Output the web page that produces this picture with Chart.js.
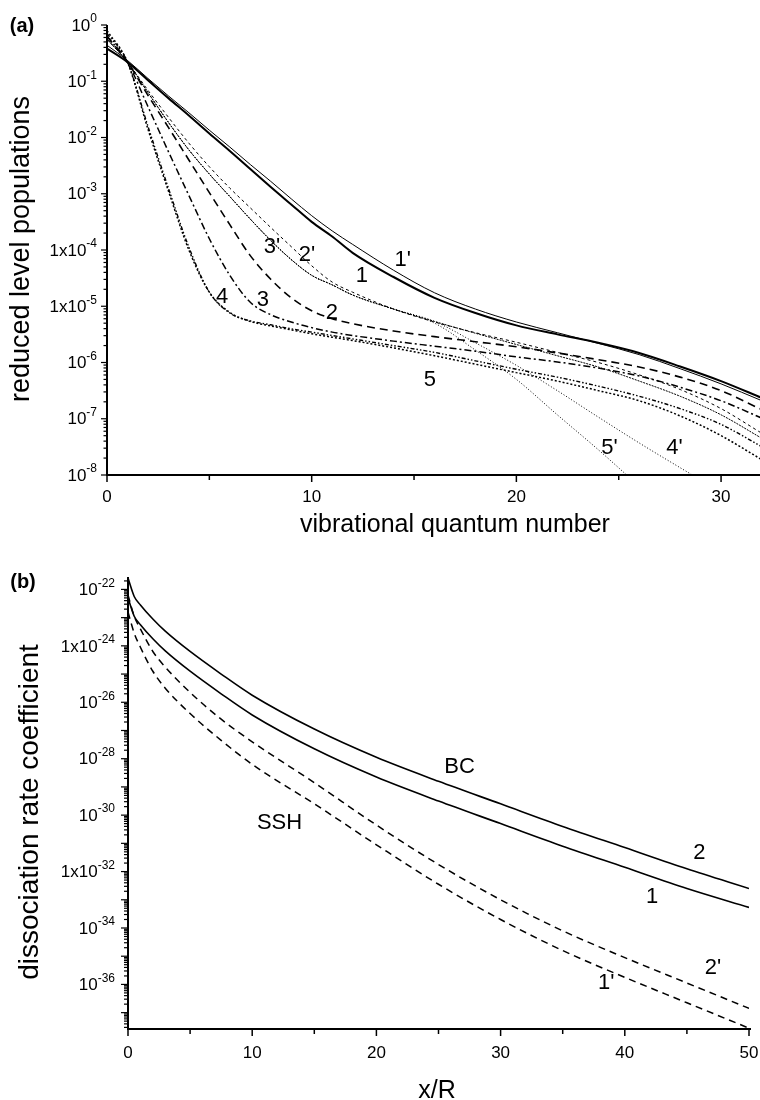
<!DOCTYPE html>
<html>
<head>
<meta charset="utf-8">
<script src="https://cdn.jsdelivr.net/npm/chart.js@4.4.0/dist/chart.umd.min.js"></script>
<style>
  html, body { margin: 0; padding: 0; background: #fff; overflow: hidden; width: 760px; height: 1100px; }
  canvas { position: absolute; left: 0; }
  #popChart { top: 0; }
  #rateChart { top: 540px; }
</style>
</head>
<body>
<canvas id="popChart" width="763" height="540"></canvas>
<canvas id="rateChart" width="760" height="560"></canvas>
<script>
const FONT = '"Liberation Sans", Arial, sans-serif';

// (a) reduced level populations, stored as log10 values
const vGrid = [0, 1, 2, 3, 4, 5, 6, 7, 8, 9, 10, 11, 12, 14, 16, 18, 20, 22, 24, 26, 28, 30, 32];
const pop1  = [-0.42, -0.66, -0.98, -1.30, -1.61, -1.93, -2.24, -2.56, -2.88, -3.19, -3.50, -3.76, -4.05, -4.48, -4.85, -5.12, -5.34, -5.50, -5.65, -5.83, -6.07, -6.33, -6.63];
const pop1p = [-0.36, -0.63, -0.95, -1.26, -1.56, -1.87, -2.17, -2.48, -2.78, -3.09, -3.39, -3.66, -3.90, -4.36, -4.76, -5.05, -5.28, -5.47, -5.66, -5.86, -6.11, -6.38, -6.68];
const pop2  = [-0.20, -0.66, -1.25, -1.82, -2.40, -2.98, -3.55, -4.10, -4.52, -4.85, -5.08, -5.22, -5.31, -5.44, -5.54, -5.63, -5.72, -5.83, -5.95, -6.08, -6.26, -6.50, -6.84];
const pop2p = [-0.25, -0.66, -1.16, -1.64, -2.10, -2.52, -2.90, -3.25, -3.60, -3.94, -4.28, -4.57, -4.75, -5.05, -5.28, -5.47, -5.64, -5.82, -6.00, -6.22, -6.48, -6.82, -7.26];
const pop3  = [-0.20, -0.66, -1.45, -2.25, -3.03, -3.80, -4.45, -4.93, -5.15, -5.28, -5.38, -5.46, -5.52, -5.62, -5.71, -5.80, -5.90, -5.99, -6.10, -6.24, -6.44, -6.68, -6.99];
const pop3p = [-0.25, -0.66, -1.20, -1.73, -2.22, -2.65, -3.05, -3.45, -3.83, -4.17, -4.45, -4.62, -4.80, -5.05, -5.27, -5.48, -5.68, -5.88, -6.08, -6.33, -6.60, -6.93, -7.35];
const pop4  = [-0.15, -0.66, -1.80, -2.90, -3.95, -4.75, -5.12, -5.26, -5.33, -5.40, -5.46, -5.52, -5.58, -5.70, -5.82, -5.97, -6.12, -6.26, -6.42, -6.60, -6.82, -7.10, -7.50];
const pop4p = [-0.25, -0.66, -1.20, -1.73, -2.22, -2.65, -3.05, -3.45, -3.83, -4.17, -4.45, -4.62, -4.80, -5.05, -5.27, -5.65, -6.05, -6.50, -6.97, -7.43, -7.87, -8.30, null];
const pop5  = [-0.10, -0.66, -1.85, -2.95, -4.00, -4.75, -5.11, -5.27, -5.35, -5.42, -5.49, -5.55, -5.61, -5.74, -5.88, -6.03, -6.18, -6.33, -6.50, -6.68, -6.95, -7.30, -7.73];
const pop5p = [-0.25, -0.66, -1.20, -1.73, -2.22, -2.65, -3.05, -3.45, -3.83, -4.17, -4.45, -4.62, -4.80, -5.05, -5.30, -5.78, -6.30, -6.93, -7.55, -8.20, null, null, null];

const popTicksX = [0, 10, 20, 30];
const popTicksY = [0, -1, -2, -3, -4, -5, -6, -7, -8];
const popTickPrefix = { '-4': '1x', '-5': '1x' };
// curve labels: [text, v, log10]
const popLabels = [
  ["3'", 8.06, -3.95], ["2'", 9.77, -4.09], ["1", 12.45, -4.46], ["1'", 14.45, -4.18],
  ["4", 5.62, -4.84], ["3", 7.62, -4.89], ["2", 10.99, -5.12], ["5", 15.77, -6.31],
  ["5'", 24.55, -7.52], ["4'", 27.72, -7.52]
];

// (b) dissociation rate coefficient, log10 values
const xGrid  = [0, 0.5, 1, 2, 3, 5, 7.5, 10, 15, 20, 25, 30, 35, 40, 45, 50];
const rate2  = [-21.6, -22.25, -22.55, -23.05, -23.48, -24.2, -25.0, -25.75, -26.95, -27.95, -28.8, -29.6, -30.4, -31.15, -31.9, -32.6];
const rate1  = [-22.3, -22.95, -23.25, -23.75, -24.18, -24.9, -25.7, -26.45, -27.65, -28.65, -29.5, -30.3, -31.1, -31.85, -32.6, -33.27];
const rate2p = [-22.2, -22.95, -23.4, -24.2, -24.75, -25.65, -26.6, -27.4, -28.85, -30.35, -31.75, -33.0, -34.1, -35.05, -35.95, -36.85];
const rate1p = [-22.8, -23.55, -24.05, -24.9, -25.5, -26.4, -27.35, -28.2, -29.6, -31.05, -32.45, -33.7, -34.8, -35.75, -36.65, -37.55];

const rateTicksX = [0, 10, 20, 30, 40, 50];
const rateTicksY = [-22, -24, -26, -28, -30, -32, -34, -36];
const rateTickPrefix = { '-24': '1x', '-32': '1x' };
const rateLabels = [
  ["BC", 26.7, -28.3], ["SSH", 12.2, -30.28], ["2", 46.0, -31.34], ["1", 42.2, -32.9],
  ["2'", 47.1, -35.41], ["1'", 38.5, -35.96]
];

function toPoints(xs, logs) {
  return xs.map((x, i) => ({ x: x, y: logs[i] === null ? null : Math.pow(10, logs[i]) }));
}

function series(xs, logs, width, dash) {
  return {
    data: toPoints(xs, logs),
    borderColor: '#000',
    borderWidth: width,
    borderDash: dash,
    pointRadius: 0,
    fill: false,
    cubicInterpolationMode: 'monotone',
    spanGaps: false
  };
}

function drawPow(ctx, prefix, exp, right, y, baseSize, supSize) {
  const base = prefix + '10';
  const sup = exp === 0 ? '0' : '-' + Math.abs(exp);
  ctx.font = baseSize + 'px ' + FONT;
  const wb = ctx.measureText(base).width;
  ctx.font = supSize + 'px ' + FONT;
  const ws = ctx.measureText(sup).width;
  const x0 = right - wb - ws;
  ctx.textAlign = 'left';
  ctx.textBaseline = 'middle';
  ctx.font = baseSize + 'px ' + FONT;
  ctx.fillText(base, x0, y + 1);
  ctx.font = supSize + 'px ' + FONT;
  ctx.fillText(sup, x0 + wb, y - 6);
}

function axesPlugin(o) {
  return {
    id: 'axes_' + o.name,
    afterDraw(chart) {
      const ctx = chart.ctx;
      const a = chart.chartArea;
      const xs = chart.scales.x, ys = chart.scales.y;
      ctx.save();
      ctx.fillStyle = '#000';
      ctx.strokeStyle = '#000';

      // axis lines
      ctx.lineWidth = 2;
      ctx.beginPath();
      ctx.moveTo(a.left, a.top);
      ctx.lineTo(a.left, a.bottom);
      ctx.lineTo(a.right + 2, a.bottom);
      ctx.stroke();

      // y ticks
      ctx.lineWidth = 1.2;
      const lo = Math.ceil(Math.log10(ys.min) - 1), hi = Math.floor(Math.log10(ys.max));
      for (let e = lo; e <= hi; e++) {
        for (let m = 1; m <= 9; m++) {
          const val = m * Math.pow(10, e);
          if (val < ys.min || val > ys.max) continue;
          const py = ys.getPixelForValue(val);
          const len = m === 1 ? o.yMajor : o.yMinor;
          ctx.beginPath();
          ctx.moveTo(a.left - len, py);
          ctx.lineTo(a.left, py);
          ctx.stroke();
        }
      }

      // x ticks
      ctx.lineWidth = 1.5;
      for (let v = 0; v <= xs.max; v += 5) {
        const px = xs.getPixelForValue(v);
        const len = v % 10 === 0 ? 7 : 5;
        ctx.beginPath();
        ctx.moveTo(px, a.bottom);
        ctx.lineTo(px, a.bottom + len);
        ctx.stroke();
      }

      // x tick labels
      ctx.font = '17px ' + FONT;
      ctx.textAlign = 'center';
      ctx.textBaseline = 'middle';
      o.ticksX.forEach(v => ctx.fillText(String(v), xs.getPixelForValue(v), a.bottom + o.xLabelGap));

      // y tick labels with superscripts
      o.ticksY.forEach(e => {
        drawPow(ctx, o.prefix[String(e)] || '', e, a.left - o.yLabelGap, ys.getPixelForValue(Math.pow(10, e)), 17, 12);
      });

      // axis titles
      ctx.font = '25px ' + FONT;
      ctx.textAlign = 'center';
      ctx.textBaseline = 'alphabetic';
      ctx.fillText(o.xTitle, o.xTitleX, o.xTitleY);

      ctx.save();
      ctx.translate(o.yTitleX, o.yTitleY);
      ctx.rotate(-Math.PI / 2);
      ctx.font = o.yTitleSize + 'px ' + FONT;
      ctx.fillText(o.yTitle, 0, 0);
      ctx.restore();

      // panel letter
      ctx.font = 'bold 20px ' + FONT;
      ctx.textAlign = 'center';
      ctx.textBaseline = 'middle';
      ctx.fillText(o.panel, o.panelX, o.panelY);

      // curve labels
      ctx.font = '22px ' + FONT;
      o.labels.forEach(l => {
        ctx.fillText(l[0], xs.getPixelForValue(l[1]), ys.getPixelForValue(Math.pow(10, l[2])));
      });
      ctx.restore();
    }
  };
}

function baseOptions(xmax, ymin, ymax, pad) {
  return {
    responsive: false,
    animation: false,
    devicePixelRatio: 1,
    layout: { padding: pad },
    plugins: { legend: { display: false }, tooltip: { enabled: false } },
    scales: {
      x: { type: 'linear', min: 0, max: xmax, display: false },
      y: { type: 'logarithmic', min: ymin, max: ymax, display: false }
    }
  };
}

new Chart(document.getElementById('popChart'), {
  type: 'line',
  data: {
    datasets: [
      series(vGrid, pop1, 2, []),
      series(vGrid, pop1p, 1, []),
      series(vGrid, pop2, 1.6, [8, 5]),
      series(vGrid, pop2p, 1, [3, 3]),
      series(vGrid, pop3, 1.5, [7, 3, 2, 3]),
      series(vGrid, pop3p, 1, [2, 1]),
      series(vGrid, pop4, 1.4, [4, 2, 1.5, 2, 1.5, 2]),
      series(vGrid, pop4p, 1, [1, 2]),
      series(vGrid, pop5, 1.5, [2, 2]),
      series(vGrid, pop5p, 1, [1, 2])
    ]
  },
  options: baseOptions(32, 1e-8, 1, { left: 107, top: 25, right: 1, bottom: 65 }),
  plugins: [axesPlugin({
    name: 'pop', ticksX: popTicksX, ticksY: popTicksY, prefix: popTickPrefix,
    yMajor: 6, yMinor: 3.5, xLabelGap: 22, yLabelGap: 10,
    xTitle: 'vibrational quantum number', xTitleX: 455, xTitleY: 532,
    yTitle: 'reduced level populations', yTitleX: 29, yTitleY: 249, yTitleSize: 27,
    panel: '(a)', panelX: 22, panelY: 26, labels: popLabels
  })]
});

new Chart(document.getElementById('rateChart'), {
  type: 'line',
  data: {
    datasets: [
      series(xGrid, rate2, 1.6, []),
      series(xGrid, rate1, 1.6, []),
      series(xGrid, rate2p, 1.5, [7, 5]),
      series(xGrid, rate1p, 1.5, [7, 5])
    ]
  },
  options: baseOptions(50, Math.pow(10, -37.58), Math.pow(10, -21.56), { left: 128, top: 37, right: 11, bottom: 71 }),
  plugins: [axesPlugin({
    name: 'rate', ticksX: rateTicksX, ticksY: rateTicksY, prefix: rateTickPrefix,
    yMajor: 7, yMinor: 4, xLabelGap: 24, yLabelGap: 13,
    xTitle: 'x/R', xTitleX: 437, xTitleY: 558,
    yTitle: 'dissociation rate coefficient', yTitleX: 38, yTitleY: 272, yTitleSize: 28,
    panel: '(b)', panelX: 23, panelY: 42, labels: rateLabels
  })]
});
</script>
</body>
</html>
